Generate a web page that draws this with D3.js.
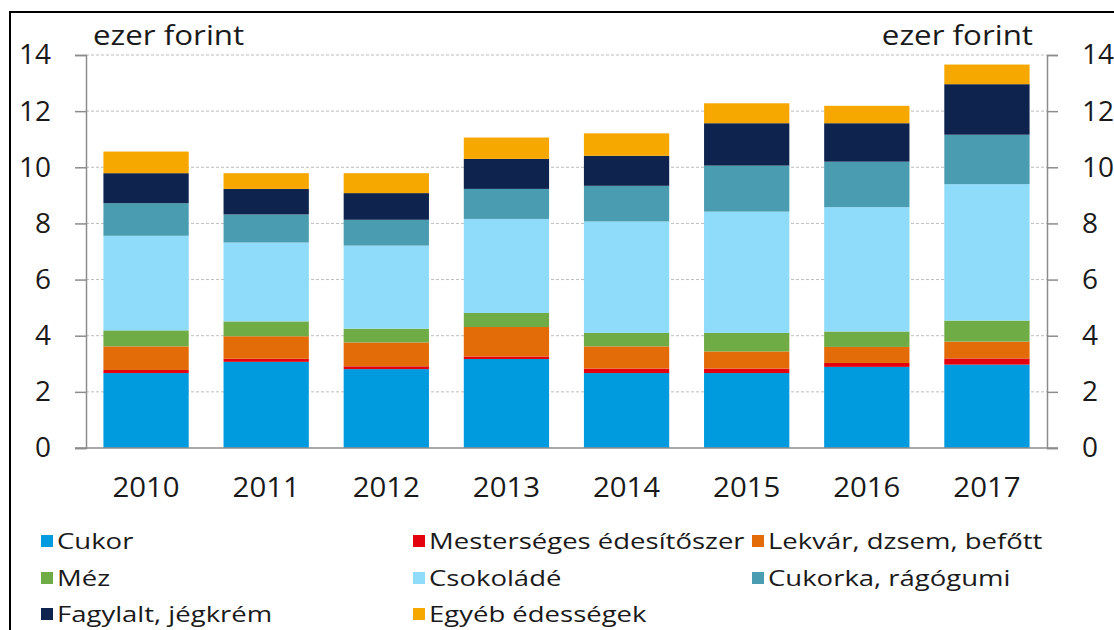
<!DOCTYPE html>
<html><head><meta charset="utf-8">
<script src="https://cdn.jsdelivr.net/npm/d3@7/dist/d3.min.js"></script>
<style>
html,body{margin:0;padding:0;background:#fff;}
svg{display:block;}
text{font-family:"Open Sans",sans-serif;fill:#1a1a1a;}
</style></head>
<body><svg id="chart" width="1114" height="630"></svg>
<script>
const years = ["2010","2011","2012","2013","2014","2015","2016","2017"];
const seriesNames = ["Cukor","Mesterséges édesítőszer","Lekvár, dzsem, befőtt","Méz","Csokoládé","Cukorka, rágógumi","Fagylalt, jégkrém","Egyéb édességek"];
const seriesColors = ["#009ADE","#E3000F","#E36C09","#6FAC46","#8EDBFA","#4A9DB1","#0E234D","#F6A800"];
const cukor      = [2.67,3.07,2.81,3.17,2.67,2.67,2.89,2.97];
const mester     = [0.11,0.11,0.10,0.09,0.16,0.16,0.14,0.22];
const lekvar     = [0.84,0.80,0.85,1.05,0.79,0.61,0.57,0.60];
const mez        = [0.57,0.53,0.49,0.50,0.48,0.66,0.55,0.75];
const csoki      = [3.37,2.81,2.96,3.35,3.97,4.32,4.43,4.86];
const cukorka    = [1.16,1.00,0.92,1.07,1.27,1.64,1.62,1.76];
const fagylalt   = [1.07,0.91,0.95,1.07,1.07,1.51,1.37,1.80];
const egyeb      = [0.77,0.56,0.71,0.76,0.80,0.71,0.62,0.70];
const yTicks = [0,2,4,6,8,10,12,14];
const unitLabel = "ezer forint";

const seriesValues = [cukor,mester,lekvar,mez,csoki,cukorka,fagylalt,egyeb];
const rows = years.map((yr,i)=>{const r={year:yr}; seriesNames.forEach((s,k)=>r[s]=seriesValues[k][i]); return r;});
const stacked = d3.stack().keys(seriesNames)(rows);

const svg = d3.select("#chart");
const pL = 86, pR = 1047, pT = 55, pB = 448;
const x = d3.scaleBand().domain(years).range([pL,pR]).paddingInner(0.29).paddingOuter(0.145);
const y = d3.scaleLinear().domain([0,14]).range([pB,pT]);

// frame
svg.append("rect").attr("x",10).attr("y",12).attr("width",1120).attr("height",640)
  .attr("fill","none").attr("stroke","#000").attr("stroke-width",2);

// gridlines
svg.append("g").selectAll("line").data(yTicks.filter(d=>d>0)).join("line")
  .attr("x1",pL).attr("x2",pR).attr("y1",d=>y(d)).attr("y2",d=>y(d))
  .attr("stroke","#bdbdbd").attr("stroke-width",1).attr("stroke-dasharray","3,2");

// bars
svg.append("g").selectAll("g").data(stacked).join("g")
  .attr("fill",(d,i)=>seriesColors[i])
  .selectAll("rect").data(d=>d).join("rect")
  .attr("x",d=>x(d.data.year)).attr("width",x.bandwidth())
  .attr("y",d=>y(d[1])).attr("height",d=>y(d[0])-y(d[1]));

// axes
const axL = d3.axisLeft(y).tickValues(yTicks).tickSize(11).tickFormat(d3.format("d")).tickPadding(24);
const gL = svg.append("g").attr("transform",`translate(${pL},0)`).call(axL);
const axR = d3.axisRight(y).tickValues(yTicks).tickSize(11).tickFormat(d3.format("d")).tickPadding(24);
const gR = svg.append("g").attr("transform",`translate(${pR},0)`).call(axR);
[gL,gR].forEach(g=>{
  g.select(".domain").attr("stroke","#8c8c8c").attr("stroke-width",1.5);
  g.selectAll(".tick line").attr("stroke","#8c8c8c").attr("stroke-width",1.5);
  g.selectAll(".tick text").attr("font-size",28).attr("font-family","Open Sans").attr("fill","#1a1a1a");
});
// baseline
svg.append("line").attr("x1",pL-11).attr("x2",pR+11).attr("y1",y(0)).attr("y2",y(0))
  .attr("stroke","#8c8c8c").attr("stroke-width",1.5);

const axB = d3.axisBottom(x).tickSize(0).tickPadding(29);
const gB = svg.append("g").attr("transform",`translate(0,${pB})`).call(axB);
gB.select(".domain").remove();
gB.selectAll(".tick text").attr("font-size",28).attr("font-family","Open Sans").attr("fill","#1a1a1a")
  .attr("transform","scale(1.05,1)");

// unit labels (horizontally widened to match the reference typeface)
svg.append("text").attr("transform","translate(93,45) scale(1.16,1)").attr("font-size",27).text(unitLabel);
svg.append("text").attr("transform","translate(1033,45) scale(1.16,1)").attr("font-size",27).attr("text-anchor","end").text(unitLabel);

// legend
const legX = [41,413,752], legY = [541,578,614];
const leg = svg.append("g").selectAll("g").data(seriesNames).join("g")
  .attr("transform",(d,i)=>`translate(${legX[i%3]},${legY[Math.floor(i/3)]})`);
leg.append("rect").attr("x",0).attr("y",-6).attr("width",12).attr("height",12).attr("fill",(d,i)=>seriesColors[i]);
leg.append("text").attr("transform","translate(16,8) scale(1.25,1)").attr("font-size",22).text(d=>d);
</script></body></html>
